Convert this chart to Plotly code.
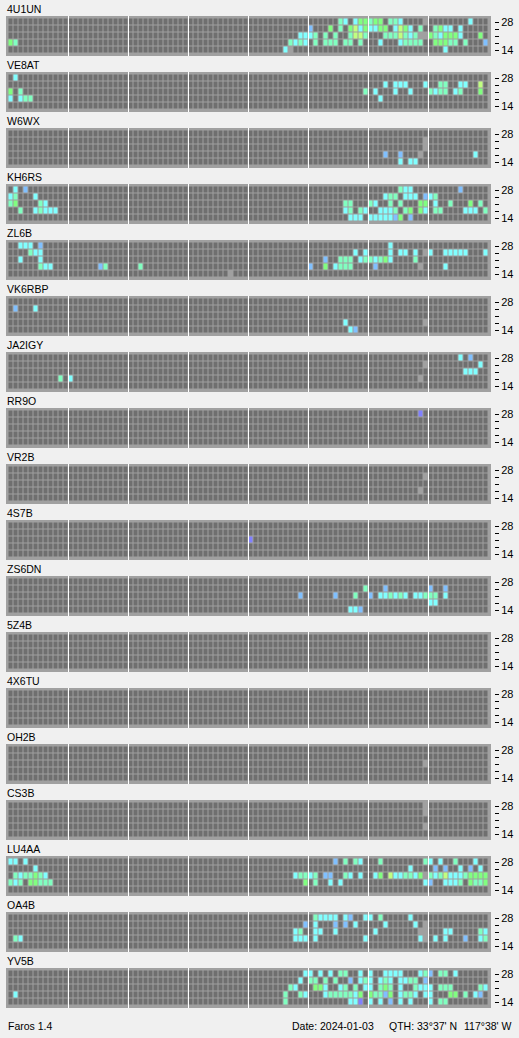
import plotly.graph_objects as go

W, H = 519, 1038

STATIONS = ["4U1UN", "VE8AT", "W6WX", "KH6RS", "ZL6B", "VK6RBP", "JA2IGY", "RR9O", "VR2B",
            "4S7B", "ZS6DN", "5Z4B", "4X6TU", "OH2B", "CS3B", "LU4AA", "OA4B", "YV5B"]
BANDS = ["28", "24", "21", "18", "14"]   # top row to bottom row
N_SLOTS = 96

# sparse readings: "slot+level" per band row (28, 24, 21, 18, 14)
# levels: x=no data, p=periwinkle, b=blue, c=cyan, m=mint, g=green, y=yellow-green
S_4U1UN = ["66m 67c 69c 70g 71g 72m 73g 74g 76m 77m 78c 83x 92c",
           "60b 64g 66m 68g 69y 70c 71g 72c 73c 74g 75g 77c 78y 79g 80c 82m 85m 86g 87c 88c 90c",
           "58c 59c 60c 61m 63m 65m 68m 69y 70y 71m 75m 76m 77m 78y 79m 80c 81m 82x 83x 84g 85m 86c 87g 88g 89g 90c 94g",
           "0g 1m 56m 57c 58m 59c 61m 63m 64m 65m 67m 68m 70m 74c 78c 79m 80m 81m 82m 85g 86g 87g 88m 89m 91m 95b",
           "55c 56x 87c"]
S_VE8AT = ["1c",
           "75c 77c 78c 79c 83c 86m 87m 90c 91c 94y",
           "0g 2m 71m 73c 77c 80c 84m 85c 86m 87m 89c 90m 94g",
           "0c 2c 3m 4m 74c",
           ""]
S_W6WX = ["", "83x", "83x", "75b 78b 82x 93c", "78c 80c 81c"]
S_KH6RS = ["1c 3b 78m 79c 80c 90b",
           "0c 1m 5c 75c 76m 77m 79c 80c 81c 83b 84c 85m",
           "0m 1g 6m 7c 67m 68m 72m 73c 76m 78m 82g 83g 85c 88m 92g 94m",
           "2m 5c 6m 7c 8c 9c 67c 68m 70m 71c 74c 75c 76c 77m 79m 80g 82g 83c 85m 86m 91c 92c 93c 95m",
           "68c 69c 70c 72c 73c 74c 75c 76c 77b 78g 80b"]
S_ZL6B = ["2c 3c 4c 6b 76c",
          "4m 5c 6c 69c 71c 76c 78c 79c 81c 83x 84c 87c 88c 89c 90c 91c 95c",
          "2c 6c 63b 66m 67m 68m 70c 71m 72m 73c 74m 75g 76c 81m",
          "6m 7c 8c 18b 19m 26m 60b 63g 65c 66m 67m 68m 73b 82x 87c",
          "44x"]
S_VK6RBP = ["", "1b 5c", "", "67c 83x", "68c 69b"]
S_JA2IGY = ["90c 92b", "83x 94c", "91c 92c 93c", "10m 12c 82x", ""]
S_RR9O = ["82p", "", "", "", ""]
S_VR2B = ["", "83x", "", "82x", ""]
S_4S7B = ["", "", "48p", "", ""]
S_ZS6DN = ["",
           "71m 75b 84b 87b",
           "58b 65b 69m 72b 74c 75c 76m 77c 78m 79c 81c 82c 83m 84m 85m 87c",
           "84c 85c",
           "68c 69c 70b"]
S_5Z4B = ["", "", "", "", ""]
S_4X6TU = ["", "", "", "", ""]
S_OH2B = ["", "", "83x", "", ""]
S_CS3B = ["83x", "83x", "", "83x", ""]
S_LU4AA = ["0c 1c 3c 65b 67m 69m 70c 74m 83m 84c 86c 89m 93c",
           "5c 80c 85b 87b 90c 92b 94c",
           "1m 2c 3m 4m 5g 6m 7c 57c 58m 59m 60c 61m 63b 64b 67m 68c 70c 73c 74g 76y 77c 78c 79m 80m 81c 82g 83x 84m 85c 86m 87y 88c 89c 90c 91m 92g 93g 94g 95g",
           "0m 1c 2m 4g 5g 6m 7m 8m 59g 61m 64c 66c 83c 84b 87c 88c 89c 90m 92g 93m 94m 95g",
           ""]
S_OA4B = ["61m 62c 63c 64c 65c 67c 68b 71c 72c 74m 80c",
          "59b 61c 65b 67b 69c 75c 81c 83x",
          "57c 58m 61c 62c 65c 73c 82x 83x 87c 88c 94m 95c",
          "1m 2c 57c 58c 59c 61c 71c 82c 83x 85c 87c 91b 94c 95m",
          ""]
S_YV5B = ["59c 60c 62c 64c 66m 67m 70c 72c 75c 76c 77c 78c 82c 83m 84b 86m 87m 89c",
          "58c 60m 61m 63m 65m 68b 70c 71m 72c 74c 75m 76c 78c 79c 80m 81m 83b",
          "56m 57c 61g 62g 63c 66c 67m 69m 71c 72c 74m 75g 76m 78c 81m 82c 83c 84c 86m 87m 88m 94m 95c",
          "1c 55m 58m 59c 63c 64m 65m 66m 67m 68m 69c 70g 72g 73m 74m 75b 76g 78c 79m 80m 81c 83c 84c 88g 89g 91m 93c 94b",
          "55m 68c 69c 70p 72c 74c 76b 78c 80c 84c 86m 87m"]

DATA = [S_4U1UN, S_VE8AT, S_W6WX, S_KH6RS, S_ZL6B, S_VK6RBP, S_JA2IGY, S_RR9O, S_VR2B,
        S_4S7B, S_ZS6DN, S_5Z4B, S_4X6TU, S_OH2B, S_CS3B, S_LU4AA, S_OA4B, S_YV5B]

LEVELS = ".xpbcmgy"
COLORS = ["#6f6f6f", "#a0a0a0", "#8080ff", "#80c0ff", "#80ffff", "#80ffc0", "#80ff80", "#c0ff80"]

FOOTER_LEFT = "Faros 1.4"
FOOTER_DATE = "Date: 2024-01-03"
FOOTER_QTH = "QTH: 33°37' N"
FOOTER_LON = "117°38' W"

FONT = "Liberation Sans"
n = len(COLORS)
cscale = []
for i, c in enumerate(COLORS):
    cscale.append([i / n, c])
    cscale.append([(i + 1) / n, c])


def parse(rows):
    z = []
    for band_row in reversed(rows):  # y=0 -> 14 MHz (bottom)
        line = [0] * N_SLOTS
        for tok in band_row.split():
            line[int(tok[:-1])] = LEVELS.index(tok[-1])
        z.append(line)
    return z


fig = go.Figure()
layout = dict(width=W, height=H, margin=dict(l=0, r=0, t=0, b=0),
              paper_bgcolor="#f0f0f0", plot_bgcolor="#a0a0a0", showlegend=False)
shapes, annotations = [], []

GX0, GX1 = 6, 491
for k, (name, rows) in enumerate(zip(STATIONS, DATA)):
    T = 16 + 56 * k
    sfx = "" if k == 0 else str(k + 1)
    fig.add_trace(go.Heatmap(
        z=parse(rows), x=list(range(N_SLOTS)), y=list(range(5)),
        colorscale=cscale, zmin=-0.5, zmax=n - 0.5, showscale=False,
        xgap=1, ygap=1, hoverinfo="skip", xaxis="x" + sfx, yaxis="y" + sfx))
    layout["xaxis" + sfx] = dict(domain=[GX0 / W, GX1 / W], range=[-1, 96], visible=False,
                                 anchor="y" + sfx, fixedrange=True)
    layout["yaxis" + sfx] = dict(domain=[1 - (T + 40) / H, 1 - T / H], range=[-6 / 7, 4 + 6 / 7],
                                 anchor="free", position=494 / W, side="right",
                                 tickvals=list(range(5)), ticktext=list(reversed(["28", "", "", "", "14"])),
                                 ticks="outside", ticklen=4, tickwidth=1, tickcolor="black",
                                 showgrid=False, zeroline=False, showline=False, fixedrange=True,
                                 tickfont=dict(family=FONT, size=11, color="black"))
    for j in range(1, 8):
        shapes.append(dict(type="line", xref="x" + sfx, yref="y" + sfx + " domain",
                           x0=12 * j - 0.5, x1=12 * j - 0.5, y0=0, y1=1,
                           line=dict(color="white", width=1)))
    annotations.append(dict(text=name, xref="paper", yref="paper", x=5 / W, y=1 - (T - 7) / H,
                            xanchor="left", yanchor="middle", showarrow=False,
                            font=dict(family=FONT, size=10.5, color="black")))

fy = 1 - 1026 / H
annotations += [
    dict(text=FOOTER_LEFT, x=5.5 / W, y=fy, xanchor="left"),
    dict(text=FOOTER_DATE, x=376 / W, y=fy, xanchor="right"),
    dict(text=FOOTER_QTH, x=386.5 / W, y=fy, xanchor="left"),
    dict(text=FOOTER_LON, x=514 / W, y=fy, xanchor="right"),
]
for a in annotations[-4:]:
    a.update(xref="paper", yref="paper", yanchor="middle", showarrow=False,
             font=dict(family=FONT, size=10.5, color="black"))

layout["shapes"] = shapes
layout["annotations"] = annotations
fig.update_layout(**layout)
fig.write_html("out.html", config={"displayModeBar": False},
               post_script="document.body.style.margin='0';document.body.style.overflow='hidden';"
                           "document.body.style.background='#f0f0f0';")
